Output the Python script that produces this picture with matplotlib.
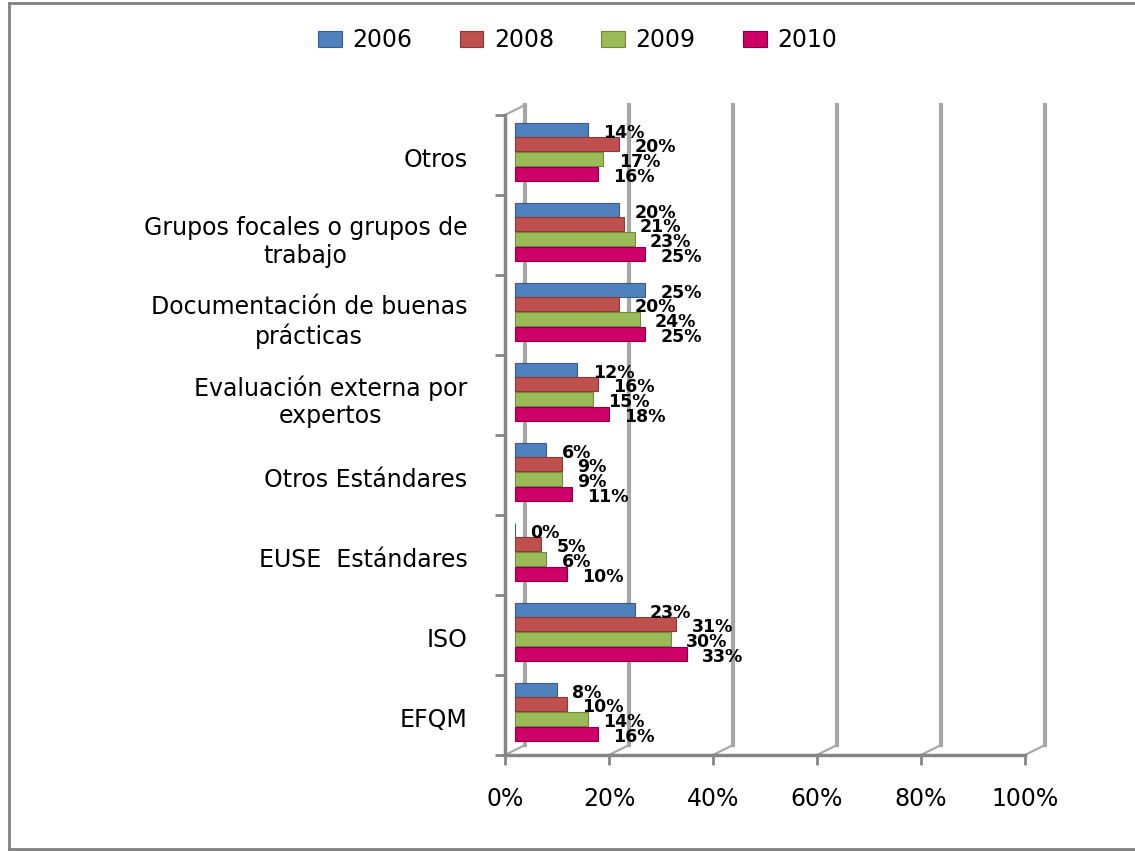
import matplotlib
matplotlib.use("Agg")
import matplotlib.pyplot as plt
import numpy as np

# categories bottom -> top, values in percent
categories = ["EFQM", "ISO", "EUSE  Estándares", "Otros Estándares",
              "Evaluación externa por\nexpertos", "Documentación de buenas\nprácticas",
              "Grupos focales o grupos de\ntrabajo", "Otros"]
years = ["2006", "2008", "2009", "2010"]
v2006 = [8, 23, 0, 6, 12, 25, 20, 14]
v2008 = [10, 31, 5, 9, 16, 20, 21, 20]
v2009 = [14, 30, 6, 9, 15, 24, 23, 17]
v2010 = [16, 33, 10, 11, 18, 25, 25, 16]
xticks = [0, 0.2, 0.4, 0.6, 0.8, 1.0]
xticklabels = ["0%", "20%", "40%", "60%", "80%", "100%"]

COLORS = ["#4F81BD", "#C0504D", "#9BBB59", "#CC0066"]
EDGES = ["#385D8A", "#8C3836", "#71893F", "#8B0045"]
GRID = "#A6A6A6"; AXC = "#868686"

fig = plt.figure(figsize=(11.35, 8.51), dpi=100)
ax = fig.add_axes([505 / 1135, 96 / 851, 520 / 1135, 640 / 851])
ax.set_xlim(0, 1); ax.set_ylim(0, 8)

# fake 3D depth (in data units): ~20px right, ~10px up
DX, DY = 0.0385, 0.125

# back wall gridlines + floor joints
for x in xticks:
    ax.plot([x + DX, x + DX], [DY, 8 + DY], color=GRID, lw=3, clip_on=False, zorder=1)
    ax.plot([x, x + DX], [0, DY], color=GRID, lw=1.5, clip_on=False, zorder=1)
ax.plot([0, DX], [8, 8 + DY], color=GRID, lw=1.5, clip_on=False, zorder=1)

series = [v2006, v2008, v2009, v2010]
ypos = np.arange(len(categories))
h = 0.175
for j, vals in enumerate(series):
    y = ypos + 0.54 + (1.5 - j) * 0.183
    w = np.array(vals) / 100.0
    ax.barh(y, w, height=h, left=DX / 2, color=COLORS[j], edgecolor=EDGES[j],
            lw=0.8, label=years[j], zorder=3)
    for yy, ww, v in zip(y, w, vals):
        ax.annotate(f"{v}%", (DX / 2 + ww, yy), xytext=(11, -2), textcoords="offset points",
                    ha="left", va="center", fontsize=12.5, fontweight="bold",
                    color="black", zorder=4)

# axes styling
for s in ("top", "right"):
    ax.spines[s].set_visible(False)
for s in ("left", "bottom"):
    ax.spines[s].set_color(AXC); ax.spines[s].set_linewidth(2.5)

ax.set_xticks(xticks)
ax.set_xticklabels(xticklabels, fontsize=17)
ax.tick_params(axis="x", length=7, width=2, color=AXC, pad=16)

ax.set_yticks(np.arange(0, 9), minor=True)
ax.set_yticks(ypos + 0.47)
ax.set_yticklabels(categories, fontsize=17)
for t in ax.get_yticklabels():
    t.set_multialignment("center")
ax.tick_params(axis="y", which="major", length=0, pad=27)
ax.tick_params(axis="y", which="minor", length=7, width=2, color=AXC)

fig.legend(loc="center", bbox_to_anchor=(0.509, 1 - 40 / 851), ncol=4, frameon=False,
           fontsize=17, handlelength=1.0, handleheight=0.65, handletextpad=0.45,
           columnspacing=2.0)

# chart border
fig.add_artist(plt.Line2D([9 / 1135, 9 / 1135], [2 / 851, 848 / 851], color="#808080", lw=2))
fig.add_artist(plt.Line2D([9 / 1135, 1], [848 / 851, 848 / 851], color="#808080", lw=2))
fig.add_artist(plt.Line2D([9 / 1135, 1], [2 / 851, 2 / 851], color="#808080", lw=2))

fig.savefig("out.png", dpi=100)
